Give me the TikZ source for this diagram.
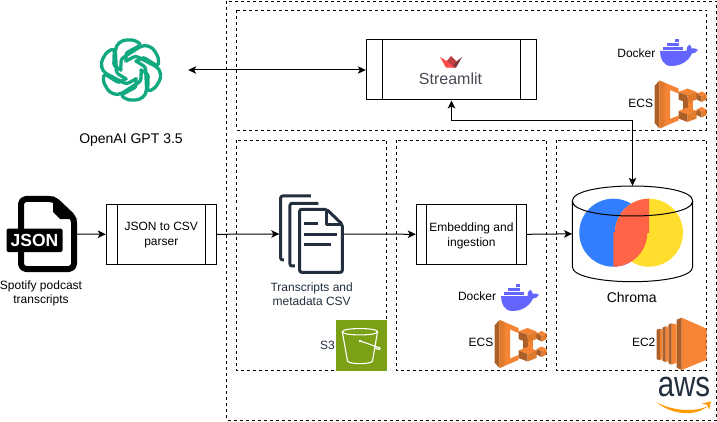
\documentclass[tikz,border=0pt]{standalone}
\usepackage{fontspec}
\setmainfont{Liberation Sans}
\usetikzlibrary{arrows.meta,calc}
\definecolor{awsink}{HTML}{232F3E}
\definecolor{ecslight}{HTML}{F58534}
\definecolor{ecsmid}{HTML}{E07B2E}
\definecolor{ecsdark}{HTML}{AD5F28}
\definecolor{dockblue}{HTML}{6464FF}
\definecolor{gptgreen}{HTML}{12A980}
\definecolor{sgreen}{HTML}{7AA116}
\definecolor{chblue}{HTML}{327EFF}
\definecolor{chyellow}{HTML}{FFDE2D}
\definecolor{chred}{HTML}{FF6446}
\definecolor{stred}{HTML}{FF4B4B}
\definecolor{stmid}{HTML}{BD4043}
\definecolor{stdark}{HTML}{7D353B}
\definecolor{stink}{HTML}{4A4A55}
\definecolor{awsorange}{HTML}{FF9900}
\tikzset{
  zone/.style={draw=black,line width=0.9pt,dash pattern=on 3pt off 3pt},
  flow/.style={draw=black,line width=1pt,-{Stealth[length=8pt,width=7.5pt,inset=2pt]}},
  flowboth/.style={draw=black,line width=1pt,{Stealth[length=8pt,width=7.5pt,inset=2pt]}-{Stealth[length=8pt,width=7.5pt,inset=2pt]}},
  procbox/.style={draw=black,line width=1pt,fill=white,inner sep=0pt},
  lbl/.style={inner sep=0pt,align=center,font=\fontsize{12}{14}\selectfont,text=black},
  anchorbox/.style={inner sep=0pt,draw=none},
}
\newcommand{\sidebars}[2]{%
  \draw[line width=1pt] ($(#1.north west)+(#2,0)$) -- ($(#1.south west)+(#2,0)$);
  \draw[line width=1pt] ($(#1.north east)+(-#2,0)$) -- ($(#1.south east)+(-#2,0)$);}
\newcommand{\cube}[5]{% x y halfwidth sideheight topheight
  \fill[ecslight] (#1,#2) -- ++(#3,-#5) -- ++(#3,#5) -- ++(-#3,#5) -- cycle;
  \fill[ecsdark] (#1,#2) -- ++(#3,#5) -- ++(0,#4) -- ++(-#3,-#5) -- cycle;
  \fill[ecsmid] (#1,#2) ++(#3,#5) -- ++(#3,-#5) -- ++(0,#4) -- ++(-#3,#5) -- cycle;}
\newcommand{\ecsIcon}[2]{%
\begin{scope}[shift={(#1,#2)}]
  \fill[ecsdark] (0,5.5)--(5,0)--(5,48)--(0,42.5)--cycle;
  \fill[ecslight] (5,0)--(24,8)--(24,13)--(15.5,9.5)--(15.5,38.5)--(24,35)--(24,40)--(5,48)--cycle;
  \fill[ecsmid] (5,0)--(10,2.1)--(10,45.9)--(5,48)--cycle;
  \fill[ecsdark] (28,18)--(33,18)--(33,30)--(28,30)--cycle;
  \fill[ecslight] (33,18)--(38,18)--(38,30)--(33,30)--cycle;
  \fill[ecsdark] (38,13)--(44,13)--(44,17.5)--(38,17.5)--cycle;
  \fill[ecsdark] (38,31)--(44,31)--(44,35)--(38,35)--cycle;
  \cube{24}{11.5}{9}{7.5}{3.5}
  \cube{42}{13.5}{5}{5.5}{2.5}
  \cube{24}{30.5}{9}{7.5}{3.5}
  \cube{42}{29}{5}{5.5}{2.5}
\end{scope}}
\newcommand{\dockerIcon}[2]{%
\begin{scope}[shift={(#1,#2)}]
  \fill[dockblue] (0,13) -- (26.5,13) .. controls (26,10) and (27.5,8) .. (29.5,6.5)
     .. controls (31,8) and (31.5,9.5) .. (31.5,10.5) .. controls (34,10) and (36.5,10.5) .. (38,12)
     .. controls (36.5,14.5) and (34,15.5) .. (32,15.5) .. controls (28,24) and (20,28) .. (11,28)
     .. controls (3,28) and (0,20) .. (0,13) -- cycle;
  \foreach \cx in {3.2,7.2,11.2,15.2,19.2} \fill[dockblue] (\cx,8.6) rectangle +(3.3,3.3);
  \foreach \cx in {7.2,11.2,15.2} \fill[dockblue] (\cx,4.6) rectangle +(3.3,3.3);
  \fill[dockblue] (15.2,0.6) rectangle +(3.3,3.3);
\end{scope}}
\begin{document}
\begin{tikzpicture}[x=1pt,y=-1pt]
\useasboundingbox (0,0) rectangle (717,422);
\fill[white] (0,0) rectangle (717,422);

% zones
\draw[zone] (226.5,1) rectangle (716,420);
\draw[zone] (236.5,10.5) rectangle (706.5,130);
\draw[zone] (236.5,140.5) rectangle (386.5,370.5);
\draw[zone] (396.5,140.5) rectangle (546.5,370.5);
\draw[zone] (556.5,140.5) rectangle (706.5,370.5);

% anchors of pictured items
\node[anchorbox,minimum width=116pt,minimum height=60pt] (openai) at (130,70) {};
\node[anchorbox,minimum width=60pt,minimum height=76pt] (jsonfile) at (47,234) {};
\node[anchorbox,minimum width=64pt,minimum height=80pt] (docs) at (311.5,234) {};
\node[anchorbox,minimum width=120.4pt,minimum height=95.7pt] (chroma) at (632.5,233.85) {};

% process boxes
\node[procbox,minimum width=170.4pt,minimum height=60pt] (streamlit) at (451.5,70) {};
\node[procbox,minimum width=110.4pt,minimum height=60pt] (parser) at (161.5,234.3) {};
\node[procbox,minimum width=110.4pt,minimum height=60pt] (embed) at (471.5,234.3) {};
\sidebars{streamlit}{17}
\sidebars{parser}{11.3}
\sidebars{embed}{11}
\node[lbl,font=\fontsize{12}{15}\selectfont] (parsertext) at (161.3,235.5) {JSON to CSV\\parser};
\node[lbl,font=\fontsize{12}{15}\selectfont] (embedtext) at (471.5,235.5) {Embedding and\\ingestion};

% OpenAI knot
\begin{scope}[shift={(131,70)},yscale=-1]
  \foreach \a in {0,60,...,300}
    \draw[gptgreen,line width=3.3pt,rounded corners=2.5pt,rotate=\a]
      (-5,-9) -- (-14.5,-3) -- (-15.5,17)
      .. controls (-15.5,26) and (-9,30) .. (-2,30)
      .. controls (3,30) and (7,28) .. (10,25)
      -- (-5,17) -- (-5,7.5);
\end{scope}

% JSON file icon
\draw[black,line width=6pt,line join=round,rounded corners=5pt] (54,199) -- (21,199) -- (21,269) -- (74,269) -- (74,218) -- cycle;
\fill[black] (53,196) -- (77,219) -- (60,219) -- (53,212) -- cycle;
\fill[black,rounded corners=2pt] (6.5,228.5) rectangle (62.5,252);
\node[inner sep=0pt,text=white,font=\fontsize{17.5}{18}\bfseries\selectfont] at (34.5,240.5) {JSON};

% documents icon
\begin{scope}[shift={(230,180)},x=0.3333pt,y=-0.3333pt,awsink,line width=3pt]
  \draw[line join=round,rounded corners=2pt] (243,48) -- (152,48) -- (152,240) -- (162,240);
  \draw[line join=round,rounded corners=2pt] (265,70) -- (180,70) -- (180,258) -- (195,258);
  \draw[line join=round,rounded corners=2pt] (290,88) -- (209,88) -- (209,277) -- (337,277) -- (337,133) -- cycle;
  \draw[line join=round] (290,88) -- (290,133) -- (337,133);
  \draw (223,130) -- (265,130);
  \draw (223,163) -- (322,163);
  \draw (223,195) -- (303,195);
\end{scope}

% S3 tile
\fill[sgreen] (336.3,320) rectangle (386.7,370.5);
\begin{scope}[white,line width=1.1pt]
  \draw (342.3,331.7) .. controls (342.3,327.5) and (377.5,327.5) .. (377.5,331.7)
        .. controls (377.5,336) and (342.3,336) .. (342.3,331.7) -- cycle;
  \draw (342.3,331.7) -- (347.5,361) .. controls (349,364.5) and (371,364.5) .. (372.5,361) -- (377.5,331.7);
  \draw (360,341) .. controls (367,343) and (375,346.5) .. (380,348) .. controls (381,349.5) and (378,350) .. (375,348);
  \fill (360,341) circle (1.3pt);
\end{scope}

% Streamlit logo
\fill[stmid] (451,56) -- (446,62) -- (454,67.7) -- (457,62) -- cycle;
\fill[stdark] (462,57) -- (456,67.7) -- (452,67.7) -- (457,61) -- cycle;
\fill[stred] (440,57) -- (446,67.7) -- (455,67.7) -- (446,60.5) -- cycle;
\node[inner sep=0pt,text=stink,font=\fontsize{16}{18}\selectfont] (stext) at (450.5,79) {Streamlit};

% Docker + ECS
\dockerIcon{660}{38}
\dockerIcon{501}{283}
\ecsIcon{654.5}{80.5}
\ecsIcon{494.5}{320}

% Chroma
\fill[chblue] (613.3,232.7) circle (34pt);
\fill[chyellow] (649,232.7) circle (34pt);
\begin{scope}
  \clip (600,190) rectangle (649,232.7);
  \fill[chred] (649,232.7) circle (34pt);
\end{scope}
\begin{scope}
  \clip (613.3,232.7) rectangle (660,270);
  \fill[chred] (613.3,232.7) circle (34pt);
\end{scope}
\draw[line width=1pt] (572.3,201) .. controls (572.3,181) and (692.7,181) .. (692.7,201)
   .. controls (692.7,221) and (572.3,221) .. (572.3,201) -- cycle;
\draw[line width=1pt] (572.3,201) -- (572.3,266.7) .. controls (572.3,286.7) and (692.7,286.7) .. (692.7,266.7) -- (692.7,201);

% EC2
\begin{scope}[shift={(656.7,317.7)}]
  \fill[ecslight] (25,0) -- (50,11) -- (50,42) -- (25,52.3) -- cycle;
  \fill[ecsdark] (20,2) -- (25,0) -- (25,52.3) -- (20,50) -- cycle;
  \fill[ecslight] (15,5.5) -- (20,7) -- (20,45) -- (15,47) -- cycle;
  \fill[ecsdark] (11.7,7) -- (15,5.5) -- (15,47) -- (11.7,45.5) -- cycle;
  \fill[ecslight] (9,8.5) -- (11.7,9.5) -- (11.7,43) -- (9,44.5) -- cycle;
  \fill[ecsdark] (5.7,10) -- (9,8.5) -- (9,44.5) -- (5.7,43) -- cycle;
  \fill[ecslight] (3.3,11) -- (5.7,12) -- (5.7,41) -- (3.3,42.5) -- cycle;
  \fill[ecsdark] (0,12) -- (3.3,11) -- (3.3,42.5) -- (0,41.5) -- cycle;
\end{scope}

% AWS logo
\node[inner sep=0pt,text=awsink] (awstext) at (684,387) {\scalebox{0.82}[1]{\fontsize{36}{36}\selectfont aws}};
\fill[awsorange] (656,402) .. controls (672,415) and (695,417) .. (708,406)
   .. controls (695,412.5) and (672,411) .. (656,402) -- cycle;
\fill[awsorange] (702,403.5) -- (711,401.5) -- (709,410) -- (707.5,405) -- cycle;

% connectors
\draw[flowboth] (openai.east) -- (streamlit.west);
\draw[flow] (jsonfile.east) -- (parser.west);
\draw[flow] (parser.east) -- (docs.west);
\draw[flow] (docs.east) -- (embed.west);
\draw[flow] (embed.east) -- (chroma.west);
\coordinate (bend) at (632.5,120.7);
\draw[flowboth] (chroma.north) -- (bend) -| (streamlit.south);

% labels
\node[lbl,font=\fontsize{14}{16}\selectfont] (gptlabel) at (131,140) {OpenAI GPT 3.5};
\node[lbl] (spotify) at (41,293.7) {Spotify podcast\\transcripts};
\node[lbl,text=awsink] (csvlabel) at (311.7,294.5) {Transcripts and\\metadata CSV};
\node[lbl,text=awsink] (s3label) at (327.5,345) {S3};
\node[lbl] (dockA) at (636.4,53) {Docker};
\node[lbl] (dockB) at (477,296.7) {Docker};
\node[lbl] (ecsA) at (640.7,103.7) {ECS};
\node[lbl] (ecsB) at (481,342.7) {ECS};
\node[lbl] (ec2label) at (643.7,342.7) {EC2};
\node[lbl,font=\fontsize{14}{16}\selectfont] (chromalabel) at (631.7,297.3) {Chroma};
\end{tikzpicture}
\end{document}
